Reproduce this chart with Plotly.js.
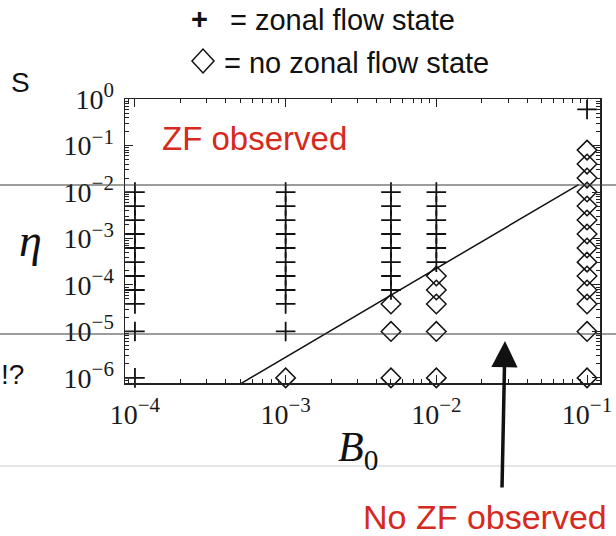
<!DOCTYPE html>
<html>
<head>
<meta charset="utf-8">
<script src="https://cdn.plot.ly/plotly-3.0.1.min.js"></script>
<style>html,body{margin:0;padding:0;background:#fff;}#chart{width:616px;height:536px;}</style>
</head>
<body>
<div id="chart"></div>
<script>
// Zonal flow states (+)
const zfB0 = [
  1e-4, 1e-4, 1e-4, 1e-4, 1e-4, 1e-4, 1e-4, 1e-4, 1e-4, 1e-4, 1e-4,
  1e-3, 1e-3, 1e-3, 1e-3, 1e-3, 1e-3, 1e-3, 1e-3, 1e-3, 1e-3,
  5e-3, 5e-3, 5e-3, 5e-3, 5e-3, 5e-3, 5e-3, 5e-3,
  1e-2, 1e-2, 1e-2, 1e-2, 1e-2, 1e-2,
  1e-1
];
const zfEta = [
  1e-2, 5e-3, 2.5e-3, 1.25e-3, 6.25e-4, 3.1e-4, 1.56e-4, 7.8e-5, 3.9e-5, 1e-5, 1e-6,
  1e-2, 5e-3, 2.5e-3, 1.25e-3, 6.25e-4, 3.1e-4, 1.56e-4, 7.8e-5, 3.9e-5, 1e-5,
  1e-2, 5e-3, 2.5e-3, 1.25e-3, 6.25e-4, 3.1e-4, 1.56e-4, 7.8e-5,
  1e-2, 5e-3, 2.5e-3, 1.25e-3, 6.25e-4, 3.1e-4,
  0.6
];
// No zonal flow states (diamonds)
const nzB0 = [
  1e-3,
  5e-3, 5e-3, 5e-3,
  1e-2, 1e-2, 1e-2, 1e-2, 1e-2,
  1e-1, 1e-1, 1e-1, 1e-1, 1e-1, 1e-1, 1e-1, 1e-1, 1e-1, 1e-1, 1e-1, 1e-1, 1e-1, 1e-1
];
const nzEta = [
  1e-6,
  3.9e-5, 1e-5, 1e-6,
  1.56e-4, 7.8e-5, 3.9e-5, 1e-5, 1e-6,
  8e-2, 4e-2, 2e-2, 1e-2, 5e-3, 2.5e-3, 1.25e-3, 6.25e-4, 3.1e-4, 1.56e-4, 7.8e-5, 3.9e-5, 1e-5, 1e-6
];
// Boundary line
const lineB0 = [5.0e-4, 8.8e-2];
const lineEta = [7.4e-7, 1.45e-2];

const xTickVals = [1e-4, 1e-3, 1e-2, 1e-1];
const xTickExp = ['−4', '−3', '−2', '−1'];
const yTickVals = [1e0, 1e-1, 1e-2, 1e-3, 1e-4, 1e-5, 1e-6];
const yTickExp = ['0', '−1', '−2', '−3', '−4', '−5', '−6'];

const supLabel = e => '10<sup><span style="font-size:21px">' + e + '</span></sup>';

function minorVals(lo, hi) {
  const v = [];
  for (let e = lo; e <= hi; e++) for (let m = 2; m <= 9; m++) v.push(m * Math.pow(10, e));
  return v;
}

const red = '#d62a20';
const L = 125, R = 600, T = 99, B = 383, W = 616, H = 536;
const px = x => (x - L) / (R - L);
const py = y => (B - y) / (B - T);

const traces = [
  {x: lineB0, y: lineEta, mode: 'lines', line: {color: '#111', width: 1.5}, hoverinfo: 'skip', showlegend: false},
  {x: zfB0, y: zfEta, mode: 'markers', marker: {symbol: 'cross-thin-open', size: 14, color: '#111', line: {color: '#111', width: 1.8}}, showlegend: false, cliponaxis: false},
  {x: nzB0, y: nzEta, mode: 'markers', marker: {symbol: 'diamond-open', size: 15, color: '#111', line: {color: '#111', width: 1.5}}, showlegend: false, cliponaxis: false}
];

const axisCommon = {
  type: 'log', showgrid: false, zeroline: false,
  showline: true, linecolor: '#222', linewidth: 1.5, mirror: 'ticks',
  ticks: 'inside', ticklen: 8, tickwidth: 1, tickcolor: '#222',
  tickfont: {family: 'Liberation Serif, Times New Roman, serif', size: 28, color: '#1a1a1a'}
};

const layout = {
  width: W, height: H,
  margin: {l: L, r: W - R, t: T, b: H - B, pad: 0},
  paper_bgcolor: '#fff', plot_bgcolor: '#fff',
  showlegend: false,
  xaxis: Object.assign({}, axisCommon, {
    range: [-4.066, -0.914], tickmode: 'array', tickvals: xTickVals, ticktext: xTickExp.map(supLabel),
    ticklabelstandoff: 6,
    minor: {tickmode: 'array', tickvals: minorVals(-5, -1), ticks: 'inside', ticklen: 4, tickcolor: '#222'}
  }),
  yaxis: Object.assign({}, axisCommon, {
    range: [-6.11, 0.003], tickmode: 'array', tickvals: yTickVals, ticktext: yTickExp.map(supLabel),
    ticklabelstandoff: 4,
    minor: {tickmode: 'array', tickvals: minorVals(-7, -1), ticks: 'inside', ticklen: 4, tickcolor: '#222'}
  }),
  shapes: [
    {type: 'line', xref: 'paper', yref: 'paper', x0: px(0), x1: px(W), y0: py(185), y1: py(185), line: {color: '#3a3a3a', width: 1.2}, layer: 'above'},
    {type: 'line', xref: 'paper', yref: 'paper', x0: px(0), x1: px(W), y0: py(334), y1: py(334), line: {color: '#3a3a3a', width: 1.2}, layer: 'above'},
    {type: 'line', xref: 'paper', yref: 'paper', x0: px(0), x1: px(W), y0: py(466), y1: py(466), line: {color: '#dcdcdc', width: 1.5}, layer: 'below'},
    {type: 'path', xref: 'paper', yref: 'paper', layer: 'above',
     path: 'M ' + px(192) + ' ' + py(61) + ' L ' + px(203) + ' ' + py(49) + ' L ' + px(214) + ' ' + py(61) + ' L ' + px(203) + ' ' + py(73) + ' Z',
     line: {color: '#111', width: 1.5}}
  ],
  annotations: [
    {xref: 'paper', yref: 'paper', x: px(199), y: py(19), text: '<b>+</b>', showarrow: false, xanchor: 'center', yanchor: 'middle',
     font: {family: 'Liberation Sans, Arial, sans-serif', size: 29, color: '#111'}},
    {xref: 'paper', yref: 'paper', x: px(228), y: py(20), text: '= zonal flow state', showarrow: false, xanchor: 'left', yanchor: 'middle',
     font: {family: 'Liberation Sans, Arial, sans-serif', size: 29, color: '#111'}},
    {xref: 'paper', yref: 'paper', x: px(222), y: py(63), text: '= no zonal flow state', showarrow: false, xanchor: 'left', yanchor: 'middle',
     font: {family: 'Liberation Sans, Arial, sans-serif', size: 29, color: '#111'}},
    {xref: 'paper', yref: 'paper', x: px(9), y: py(82), text: 'S', showarrow: false, xanchor: 'left', yanchor: 'middle',
     font: {family: 'Liberation Sans, Arial, sans-serif', size: 28, color: '#111'}},
    {xref: 'paper', yref: 'paper', x: px(30), y: py(240), text: '<i>η</i>', showarrow: false, xanchor: 'center', yanchor: 'middle',
     font: {family: 'Liberation Serif, Times New Roman, serif', size: 46, color: '#111'}},
    {xref: 'paper', yref: 'paper', x: px(-1), y: py(374), text: '!?', showarrow: false, xanchor: 'left', yanchor: 'middle',
     font: {family: 'Liberation Sans, Arial, sans-serif', size: 28, color: '#111'}},
    {xref: 'paper', yref: 'paper', x: px(160), y: py(138), text: 'ZF observed', showarrow: false, xanchor: 'left', yanchor: 'middle',
     font: {family: 'Liberation Sans, Arial, sans-serif', size: 33, color: red}},
    {xref: 'paper', yref: 'paper', x: px(361), y: py(517), text: 'No ZF observed', showarrow: false, xanchor: 'left', yanchor: 'middle',
     font: {family: 'Liberation Sans, Arial, sans-serif', size: 34, color: red}},
    {xref: 'paper', yref: 'paper', x: px(336), y: py(450), text: '<i>B</i><sub>0</sub>', showarrow: false, xanchor: 'left', yanchor: 'middle',
     font: {family: 'Liberation Serif, Times New Roman, serif', size: 42, color: '#111'}},
    {xref: 'paper', yref: 'paper', x: px(505), y: py(341), ax: -3, ay: 148, text: '', showarrow: true,
     arrowhead: 2, arrowsize: 1.5, arrowwidth: 3.5, arrowcolor: '#111'}
  ]
};

Plotly.newPlot('chart', traces, layout, {staticPlot: true, displayModeBar: false});
</script>
</body>
</html>
